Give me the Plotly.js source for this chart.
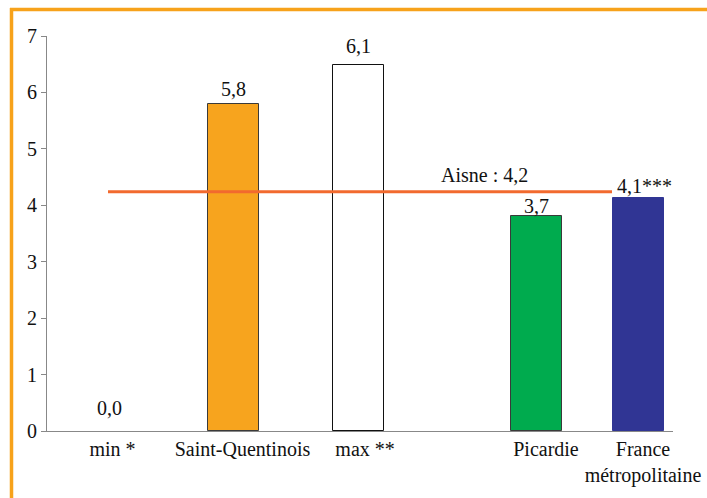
<!DOCTYPE html>
<html>
<head>
<meta charset="utf-8">
<script src="https://cdn.plot.ly/plotly-3.0.1.min.js"></script>
<style>
  html, body { margin: 0; padding: 0; background: #fff; }
  #chart { width: 707px; height: 498px; }
  #chart .xtick text, #chart .ytick text { font-family: "Liberation Serif", serif !important; }
</style>
</head>
<body>
<div id="chart"></div>
<script>
// ---- data ----
const categories = ['min *', 'Saint-Quentinois', 'max **', 'Picardie', 'France<br>métropolitaine'];
const values = [0, 5.79, 6.49, 3.81, 4.13];
const valueLabels = ['0,0', '5,8', '6,1', '3,7', '4,1***'];
const aisneValue = 4.24;
const aisneLabel = 'Aisne : 4,2';
const yTickVals = [0, 1, 2, 3, 4, 5, 6, 7];

// ---- layout helpers (positions / styles) ----
const xPos = [0.516, 1.529, 2.557, 4.012, 4.848];
const tickPos = [0.537, 1.602, 2.607, 4.09, 4.885];
const aisneSpan = [0.5, 4.631];
const barFill = ['#ffffff', '#F7A41E', '#ffffff', '#00AB4E', '#303594'];
const barLine = ['#ffffff', '#3a3a3a', '#111111', '#3a3a3a', '#303594'];
const labelYShift = [23, 15.5, 19, 10, 12];
const labelXShift = [0, 0, 0, 0, 6.5];
const FONT = 'Liberation Serif';

const bars = {
  type: 'bar',
  x: xPos,
  y: values,
  width: 0.418,
  marker: { color: barFill, line: { color: barLine, width: 1 } },
  hoverinfo: 'skip',
  showlegend: false
};

const aisne = {
  type: 'scatter',
  mode: 'lines',
  x: aisneSpan,
  y: [aisneValue, aisneValue],
  line: { color: '#F26A2E', width: 3 },
  hoverinfo: 'skip',
  showlegend: false
};

const annotations = values.map((v, i) => ({
  x: xPos[i], y: v, xref: 'x', yref: 'y',
  text: valueLabels[i], showarrow: false,
  yanchor: 'middle', xanchor: 'center',
  yshift: labelYShift[i], xshift: labelXShift[i],
  font: { family: FONT, size: 20, color: '#111' }
}));
annotations.push({
  x: 3.585, y: aisneValue, xref: 'x', yref: 'y',
  text: aisneLabel, showarrow: false, yanchor: 'middle', xanchor: 'center',
  yshift: 16.5,
  font: { family: FONT, size: 20, color: '#111' }
});

const layout = {
  width: 707, height: 498,
  margin: { l: 47, r: 34, t: 36, b: 67 },
  paper_bgcolor: '#fff', plot_bgcolor: '#fff',
  font: { family: FONT, size: 20, color: '#111' },
  bargap: 0,
  xaxis: {
    range: [0, 5.131], showgrid: false, zeroline: false,
    showline: true, linecolor: '#888', linewidth: 1,
    tickmode: 'array', tickvals: tickPos, ticktext: categories,
    ticks: '', tickfont: { family: FONT, size: 20 }
  },
  yaxis: {
    range: [0, 7], showgrid: false, zeroline: false,
    showline: true, linecolor: '#888', linewidth: 1,
    tickmode: 'array', tickvals: yTickVals, ticktext: yTickVals.map(String),
    ticks: 'outside', ticklen: 5, tickcolor: '#888', tickwidth: 1,
    tickfont: { family: FONT, size: 20 }
  },
  annotations: annotations,
  shapes: [
    { type: 'line', xref: 'paper', yref: 'paper',
      x0: (11.5 - 47) / 626, x1: (11.5 - 47) / 626,
      y0: (431 - 8) / 395, y1: (431 - 500) / 395,
      line: { color: '#F7A21B', width: 3.5 } },
    { type: 'line', xref: 'paper', yref: 'paper',
      x0: (10 - 47) / 626, x1: (707 - 47) / 626,
      y0: (431 - 9.5) / 395, y1: (431 - 9.5) / 395,
      line: { color: '#F7A21B', width: 3.5 } }
  ]
};

const gd = document.getElementById('chart');
function serifTicks() {
  gd.querySelectorAll('.xtick text, .ytick text').forEach(t => {
    t.style.fontFamily = '"Liberation Serif", serif';
  });
}
Plotly.newPlot(gd, [bars, aisne], layout, { displayModeBar: false }).then(() => {
  serifTicks();
  gd.on('plotly_afterplot', serifTicks);
});
</script>
</body>
</html>
